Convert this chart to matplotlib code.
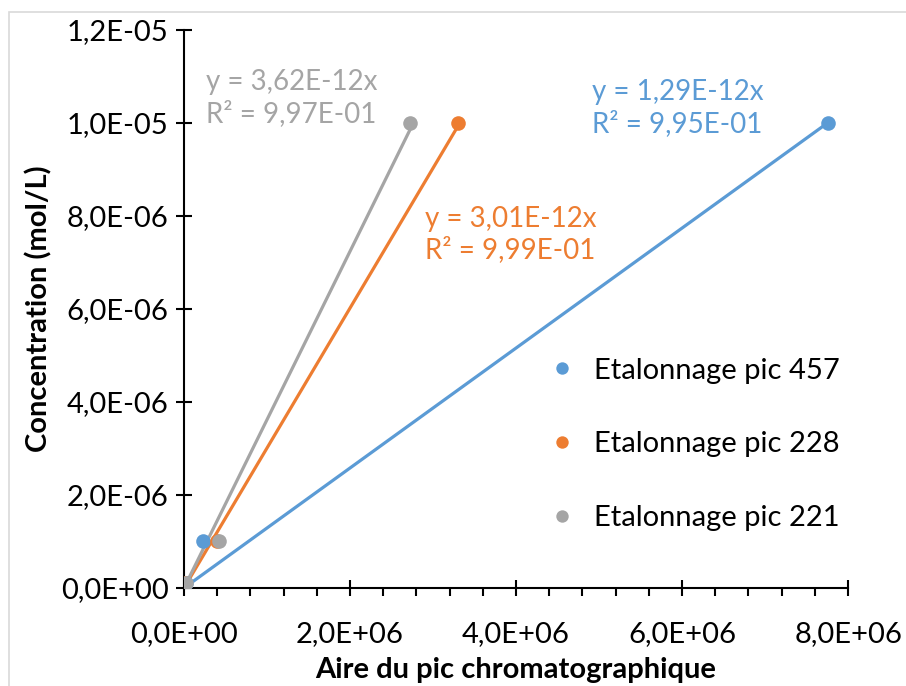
import matplotlib
matplotlib.use("Agg")
import matplotlib.pyplot as plt
import numpy as np
from matplotlib.ticker import MultipleLocator, FuncFormatter
from matplotlib.patches import Rectangle

plt.rcParams['font.family'] = ['Lato', 'DejaVu Sans']

names = ["Etalonnage pic 457", "Etalonnage pic 228", "Etalonnage pic 221"]
colors = ["#5B9BD5", "#ED7D31", "#A5A5A5"]
x457 = [0.02e6, 0.23e6, 7.76e6]
y457 = [1e-7, 1e-6, 1e-5]
x228 = [0.01e6, 0.40e6, 3.30e6]
y228 = [1e-7, 1e-6, 1e-5]
x221 = [0.03e6, 0.42e6, 2.72e6]
y221 = [1e-7, 1e-6, 1e-5]
slopes = [1.29e-12, 3.01e-12, 3.62e-12]
eq_texts = ["y = 1,29E-12x\nR² = 9,95E-01",
            "y = 3,01E-12x\nR² = 9,99E-01",
            "y = 3,62E-12x\nR² = 9,97E-01"]
eq_pos = [(4.92e6, 1.032e-5), (2.905e6, 7.6e-6), (0.26e6, 1.054e-5)]

fig = plt.figure(figsize=(9.06, 6.86), dpi=100)
fig.patches.append(Rectangle((8.5 / 906, -0.1), 1.2, 1 - 11.5 / 686 + 0.1,
                             transform=fig.transFigure, fill=False,
                             edgecolor='#D9D9D9', lw=1.2, zorder=0))
ax = fig.add_axes([0.2031, 0.1429, 0.733, 0.8134])

xs = [x457, x228, x221]
ys = [y457, y228, y221]
for i in range(3):
    xl = np.array([0, max(xs[i])])
    ax.plot(xl, slopes[i] * xl, color=colors[i], lw=2.3, zorder=2)
for i in range(3):
    ax.plot(xs[i], ys[i], 'o', color=colors[i], ms=10.5, label=names[i], zorder=3,
            markeredgewidth=0)
for i in range(3):
    ax.text(eq_pos[i][0], eq_pos[i][1], eq_texts[i], color=colors[i], fontsize=20,
            va='center', ha='left', linespacing=1.22)

ax.set_xlim(0, 8e6)
ax.set_ylim(0, 1.2e-5)
ax.xaxis.set_major_locator(MultipleLocator(2e6))
ax.xaxis.set_minor_locator(MultipleLocator(4e5))
ax.yaxis.set_major_locator(MultipleLocator(2e-6))

def fmt(v, pos):
    s = "%.1E" % v
    return s.replace('.', ',')
ax.xaxis.set_major_formatter(FuncFormatter(fmt))
ax.yaxis.set_major_formatter(FuncFormatter(fmt))

for s in ['top', 'right']:
    ax.spines[s].set_visible(False)
for s in ['left', 'bottom']:
    ax.spines[s].set_linewidth(1.5)
ax.tick_params(axis='both', which='major', direction='inout', length=12, width=1.5,
               labelsize=21, pad=5)
ax.tick_params(axis='x', which='major', pad=18)
ax.tick_params(axis='x', which='minor', direction='out', length=6, width=1.5)

ax.set_xlabel("Aire du pic chromatographique", fontsize=21, fontweight='bold', labelpad=7)
ax.set_ylabel("Concentration (mol/L)", fontsize=21, fontweight='bold', labelpad=6)

leg = ax.legend(loc='upper left', bbox_to_anchor=(0.485, 0.46), frameon=False,
                fontsize=21, handletextpad=0.1, labelspacing=1.64, markerscale=0.85)

fig.savefig("out.png", dpi=100)
